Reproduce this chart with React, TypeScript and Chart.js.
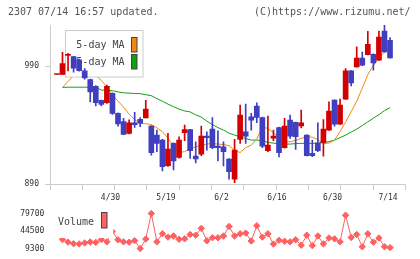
import React, { useEffect, useRef } from 'react';
import { Chart, registerables } from 'chart.js';

Chart.register(...registerables);

// ---- data ----
const openP = [983, 983, 999.2, 998.2, 995.5, 986, 978.7, 973, 961, 959, 967, 950, 943, 933, 942, 945, 946.2, 939.2, 931.5, 927.3, 905.5, 924.5, 912.6, 933.5, 936.3, 913.7, 915.4, 930.7, 936.6, 922.2, 921.6, 911.2, 894.2, 927.9, 934.3, 947, 956.1, 946.5, 918.2, 929, 938, 920.8, 944.2, 942.3, 939.4, 931.5, 916, 925, 925, 935.8, 961.2, 940.8, 962, 986, 989.4, 997, 999.9, 1000.2, 995.1, 1019.9, 1012];
const highP = [983, 1001.9, 1001, 998.5, 996, 988, 979, 973.5, 961.2, 974, 967.5, 950.5, 945.7, 944.5, 950.8, 946.5, 961, 939.5, 935.8, 928, 933, 925, 930, 940, 936.5, 925.8, 939.2, 934.3, 946.5, 935.2, 925.8, 911.5, 927.9, 957, 957.8, 949.9, 958.9, 946.8, 947.6, 935.8, 938.3, 945.7, 948.5, 942.5, 952.7, 931.8, 927.3, 942, 944.8, 959.7, 961.5, 962, 988, 986.3, 1006.4, 1002.1, 1019.7, 1000.5, 1019.9, 1025, 1014.3];
const lowP = [983, 983, 986, 985, 985.8, 979, 959.7, 956.4, 956.4, 958.5, 949, 939.2, 932, 932.5, 938, 938.6, 946, 914.5, 917.4, 901, 905, 902, 912, 926.7, 911.8, 908, 914, 918.8, 920, 909.5, 905.3, 894, 891.1, 924.5, 924.5, 935.8, 942, 920.8, 917.4, 926.7, 913, 920.5, 928.7, 919.4, 937.7, 913.8, 913.1, 917.4, 913.7, 935.5, 939.2, 940.5, 961.8, 973.3, 989.2, 990.5, 999.7, 986.6, 994.9, 1001.9, 996.8];
const closeP = [983, 992.3, 999.6, 988.3, 986.2, 980, 968.2, 959, 957.5, 973, 950, 941, 932.1, 942, 940.3, 941.7, 953.6, 916.6, 924.5, 904.7, 919.7, 909.7, 927.3, 936.3, 918.2, 911.4, 930.7, 929.3, 920.8, 920.8, 917.4, 900.4, 918.8, 948.5, 930.7, 944.2, 946.5, 922.2, 923.1, 930.7, 916.5, 939.2, 930.7, 930.1, 942, 914, 914, 918.2, 936.6, 951.9, 940.8, 957, 986, 975.8, 997, 990.8, 1008.6, 992.8, 1014.8, 1002.1, 997];
const ma5 = [null, 972, 977.1, 982, 986, 988, 986, 982, 977.9, 972.4, 965.8, 960.3, 955.3, 949.3, 944.7, 941.4, 941.2, 940.4, 937.7, 934.5, 929, 922.2, 916.7, 917.5, 920.1, 921.5, 923, 923.9, 924.4, 923.9, 923.5, 922.6, 918.4, 916.7, 920.9, 923, 928.1, 938.7, 937, 933.6, 929.4, 926, 925.8, 927, 928.7, 930.1, 929.7, 927.7, 924.3, 924.7, 927.3, 934.5, 942.5, 951.4, 960.3, 971.4, 982.8, 990.8, 996.8, 1001.9, 1004.4];
const ma25 = [null, 972, 972.2, 972.2, 972.2, 972.2, 972.2, 972.2, 969.7, 969.7, 969.2, 968.2, 967.4, 967.1, 966.9, 966.7, 965.8, 965, 962.5, 960.3, 957.8, 955.7, 953.6, 952, 951.2, 948.7, 946.8, 943.4, 940.4, 937.9, 935.8, 933.2, 931.5, 930.1, 928.6, 927.3, 927.3, 926.7, 925.3, 924.7, 924.2, 923.9, 923.9, 924.3, 924.5, 924.5, 924.5, 924.5, 925.2, 926, 927.3, 929.4, 931.5, 934.1, 936.6, 939.6, 942.8, 945.9, 948.9, 952.3, 954.8];
const volume = [null, 27400, 22100, 19000, 18600, 20400, 22500, 21600, 27400, 22700, 43300, 26900, 22700, 22100, 25100, 9300, 28300, 79700, 22700, 39200, 32200, 34500, 27800, 28700, 37500, 36200, 49800, 24800, 30900, 30900, 34500, 53600, 34500, 39000, 40300, 24400, 55100, 32200, 39000, 18300, 25700, 23900, 22700, 26900, 15900, 35900, 15100, 34500, 18600, 30400, 28700, 22700, 76200, 31500, 37500, 12800, 39000, 22100, 30400, 12800, 11100];
const dateTickIndex = [10, 20, 30, 40, 50, 60];
const dateTickLabels = ['4/30', '5/19', '6/2', '6/16', '6/30', '7/14'];
const priceTicks = [890, 990];
const volumeTicks = [9300, 44500, 79700];

const titleLeft = '2307 07/14 16:57 updated.';
const titleRight = '(C)https://www.rizumu.net/';

// ---- styles ----
const MONO = '"DejaVu Sans Mono", "Liberation Mono", monospace';
const RED = '#d40000';
const BLUE = '#3f3fbf';
const ORANGE = '#ee8a10';
const GREEN = '#10a010';
const VOL = '#ff6060';
const AXIS = '#cccccc';
const TEXT = '#333333';
const X_MIN = -1.25;
const X_MAX = 62.75;

export default function App() {
  const priceRef = useRef<HTMLCanvasElement>(null);
  const volRef = useRef<HTMLCanvasElement>(null);

  useEffect(() => {
    const idx = closeP.map((_, i) => i);
    const colors = idx.map((i) => (closeP[i] >= openP[i] ? RED : BLUE));

    const priceDecor = {
      id: 'priceDecor',
      afterDatasetDraw(chart: any, args: any) {
        if (args.index !== 2) return;
        const ctx = chart.ctx;
        ctx.save();
        ctx.fillStyle = '#ffffff';
        ctx.fillRect(65.5, 30.5, 77.5, 46.5);
        ctx.strokeStyle = AXIS;
        ctx.lineWidth = 1;
        ctx.strokeRect(65.5, 30.5, 77.5, 46.5);
        ctx.font = `10px ${MONO}`;
        ctx.fillStyle = '#444444';
        ctx.textAlign = 'right';
        ctx.textBaseline = 'middle';
        ctx.fillText('5-day MA', 124.5, 45.5);
        ctx.fillText('25-day MA', 124.5, 62.5);
        ctx.strokeStyle = '#444444';
        ctx.fillStyle = ORANGE;
        ctx.fillRect(131.5, 37.5, 5.5, 14.5);
        ctx.strokeRect(131.5, 37.5, 5.5, 14.5);
        ctx.fillStyle = GREEN;
        ctx.fillRect(131.5, 54.5, 5.5, 14.5);
        ctx.strokeRect(131.5, 54.5, 5.5, 14.5);
        ctx.restore();
      },
      afterDraw(chart: any) {
        const ctx = chart.ctx;
        ctx.save();
        ctx.font = `10px ${MONO}`;
        ctx.fillStyle = '#555555';
        ctx.textBaseline = 'middle';
        ctx.textAlign = 'left';
        ctx.fillText(titleLeft, 8, 12.5);
        ctx.textAlign = 'right';
        ctx.fillText(titleRight, 410.5, 12.5);
        ctx.restore();
      },
    };

    const price = new Chart(priceRef.current as HTMLCanvasElement, {
      type: 'bar',
      data: {
        datasets: [
          {
            type: 'bar',
            data: idx.map((i) => ({ x: i, y: [lowP[i], highP[i]] })) as any,
            backgroundColor: colors,
            borderWidth: 0,
            barThickness: 1,
            grouped: false,
            order: 1,
          } as any,
          {
            type: 'bar',
            data: idx.map((i) => ({ x: i, y: [openP[i], closeP[i]] })) as any,
            backgroundColor: colors,
            borderWidth: 0,
            barThickness: 5,
            minBarLength: 1,
            grouped: false,
            order: 0,
          } as any,
          {
            type: 'line',
            data: idx.map((i) => ({ x: i, y: ma5[i] })) as any,
            borderColor: ORANGE,
            borderWidth: 1,
            pointRadius: 0,
            tension: 0,
            order: 2,
          } as any,
          {
            type: 'line',
            data: idx.map((i) => ({ x: i, y: ma25[i] })) as any,
            borderColor: GREEN,
            borderWidth: 1,
            pointRadius: 0,
            tension: 0,
            order: 3,
          } as any,
        ],
      },
      options: {
        responsive: false,
        animation: false,
        events: [],
        layout: { padding: { left: 0, right: 14.7, top: 25, bottom: 0 } },
        plugins: { legend: { display: false }, tooltip: { enabled: false }, title: { display: false } },
        scales: {
          x: {
            type: 'linear',
            position: 'bottom',
            weight: 0,
            min: X_MIN,
            max: X_MAX,
            offset: false,
            grid: { display: true, drawOnChartArea: false, drawTicks: true, tickLength: 6, color: AXIS, offset: false },
            border: { display: true, color: AXIS },
            ticks: { display: false },
            afterBuildTicks: (s: any) => {
              s.ticks = Array.from({ length: 12 }, (_, k) => ({ value: X_MIN + (k * (X_MAX - X_MIN)) / 11 }));
            },
            afterFit: (s: any) => {
              s.height = 6;
            },
          },
          xl: {
            type: 'linear',
            position: 'bottom',
            weight: 1,
            min: X_MIN,
            max: X_MAX,
            offset: false,
            grid: { display: false, drawTicks: false },
            border: { display: false },
            ticks: {
              font: { family: MONO, size: 8 },
              color: TEXT,
              padding: 3,
              labelOffset: -2,
              autoSkip: false,
              maxRotation: 0,
              callback: (v: any) => {
                const k = dateTickIndex.indexOf(v);
                return k >= 0 ? dateTickLabels[k] : '';
              },
            },
            afterBuildTicks: (s: any) => {
              s.ticks = dateTickIndex.map((v) => ({ value: v }));
            },
            afterFit: (s: any) => {
              s.height = 13;
            },
          },
          y: {
            type: 'linear',
            position: 'left',
            min: 890,
            max: 1025,
            grid: { display: true, drawOnChartArea: false, drawTicks: true, tickLength: 5, color: AXIS },
            border: { display: true, color: AXIS },
            ticks: {
              font: { family: MONO, size: 8 },
              color: TEXT,
              padding: 6,
              callback: (v: any) => String(v),
            },
            afterBuildTicks: (s: any) => {
              s.ticks = priceTicks.map((v) => ({ value: v }));
            },
            afterFit: (s: any) => {
              s.width = 50;
            },
          },
        },
      } as any,
      plugins: [priceDecor],
    });

    const volDecor = {
      id: 'volDecor',
      afterDatasetsDraw(chart: any) {
        const ctx = chart.ctx;
        ctx.save();
        ctx.fillStyle = '#ffffff';
        ctx.fillRect(55, 0, 58.3, 35);
        ctx.font = `10px ${MONO}`;
        ctx.fillStyle = '#444444';
        ctx.textAlign = 'left';
        ctx.textBaseline = 'middle';
        ctx.fillText('Volume', 58, 19.3);
        ctx.fillStyle = VOL;
        ctx.strokeStyle = '#444444';
        ctx.lineWidth = 1;
        ctx.fillRect(101.5, 9.5, 5.5, 15.5);
        ctx.strokeRect(101.5, 9.5, 5.5, 15.5);
        ctx.restore();
      },
    };

    const vol = new Chart(volRef.current as HTMLCanvasElement, {
      type: 'line',
      data: {
        datasets: [
          {
            data: idx.map((i) => ({ x: i, y: volume[i] })) as any,
            borderColor: VOL,
            backgroundColor: VOL,
            borderWidth: 1,
            pointStyle: 'rectRot',
            pointRadius: 3.2,
            pointBorderWidth: 1,
            pointBorderColor: VOL,
            pointBackgroundColor: VOL,
            tension: 0,
            clip: false,
          } as any,
        ],
      },
      options: {
        responsive: false,
        animation: false,
        events: [],
        layout: { padding: { left: 0, right: 14.7, top: 6.3, bottom: 9.7 } },
        plugins: { legend: { display: false }, tooltip: { enabled: false } },
        scales: {
          x: { type: 'linear', min: X_MIN, max: X_MAX, display: false },
          y: {
            type: 'linear',
            min: 9300,
            max: 79700,
            grid: { display: false, drawTicks: false },
            border: { display: false },
            ticks: {
              font: { family: MONO, size: 8 },
              color: TEXT,
              padding: 5.7,
              callback: (v: any) => String(v),
            },
            afterBuildTicks: (s: any) => {
              s.ticks = volumeTicks.map((v) => ({ value: v }));
            },
            afterFit: (s: any) => {
              s.width = 50;
            },
          },
        },
      } as any,
      plugins: [volDecor],
    });

    return () => {
      price.destroy();
      vol.destroy();
    };
  }, []);

  return (
    <div style={{ position: 'absolute', left: 0, top: 0, width: 420, height: 259, background: '#ffffff' }}>
      <canvas
        ref={priceRef}
        width={420}
        height={203}
        style={{ position: 'absolute', left: 0, top: 0, width: 420, height: 203, display: 'block' }}
      />
      <canvas
        ref={volRef}
        width={420}
        height={56}
        style={{ position: 'absolute', left: 0, top: 203, width: 420, height: 56, display: 'block' }}
      />
    </div>
  );
}
